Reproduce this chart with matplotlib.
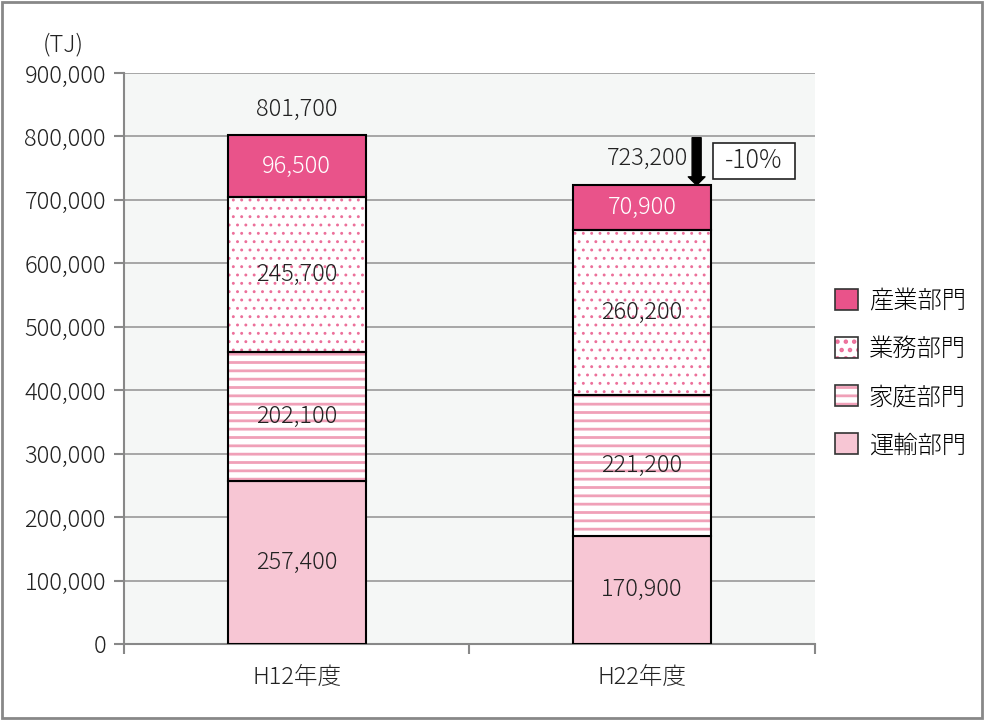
import matplotlib
matplotlib.use('Agg')
import matplotlib.pyplot as plt
from matplotlib.patches import Rectangle
from matplotlib.legend_handler import HandlerTuple

plt.rcParams['font.family'] = ['Noto Sans CJK JP', 'DejaVu Sans']
plt.rcParams['font.weight'] = 'light'

# データ
years = ['H12年度', 'H22年度']
sectors = ['運輸部門', '家庭部門', '業務部門', '産業部門']
transport = [257400, 170900]
household = [202100, 221200]
business = [245700, 260200]
industry = [96500, 70900]
totals = [801700, 723200]
yticks = [0, 100000, 200000, 300000, 400000, 500000, 600000, 700000, 800000, 900000]

series = [transport, household, business, industry]
faces = ['#f7c6d4', 'white', 'white', '#e9538a']
hatches = [None, '--', '..', None]
hatch_lw = [None, 2.0, 0.9, None]
hatch_cols = [None, '#f0a0b8', '#ec6f9a', None]
txt_cols = ['#222222', '#222222', '#222222', 'white']
FS = 17

fig = plt.figure(figsize=(9.84, 7.2), dpi=100)
ax = fig.add_axes([0.126, 0.1056, 0.702, 0.793])
ax.set_facecolor('#f5f7f6')

x = [0, 1]
w = 0.4
bottom = [0, 0]
for vals, fc, ht, hl, hc, tc in zip(series, faces, hatches, hatch_lw, hatch_cols, txt_cols):
    if ht:
        plt.rcParams['hatch.linewidth'] = hl
        ax.bar(x, vals, w, bottom=bottom, color='white', edgecolor=hc, hatch=ht, lw=0, zorder=3)
        ax.bar(x, vals, w, bottom=bottom, fill=False, edgecolor='black', lw=1.5, zorder=4)
    else:
        ax.bar(x, vals, w, bottom=bottom, color=fc, edgecolor='black', lw=1.5, zorder=3)
    for i in x:
        ax.text(i, bottom[i] + vals[i] / 2, f'{vals[i]:,}', ha='center', va='center',
                fontsize=FS, color=tc, zorder=5)
    bottom = [b + v for b, v in zip(bottom, vals)]

# 合計
ax.annotate(f'{totals[0]:,}', (0, totals[0]), xytext=(0, 10), textcoords='offset points',
            ha='center', va='bottom', fontsize=FS, color='#222222')
ax.text(1.132, 766000, f'{totals[1]:,}', ha='right', va='center', fontsize=FS, color='#222222')
ax.annotate('', xy=(1.158, totals[1]), xytext=(1.158, 798000),
            arrowprops=dict(arrowstyle='simple,head_width=1.2,head_length=0.6,tail_width=0.65',
                            color='black', shrinkA=0, shrinkB=0), zorder=6)
ax.add_patch(Rectangle((1.205, 733000), 0.237, 56700, fc='white', ec='#222222', lw=1.2, zorder=6))
ax.text(1.323, 761000, '-10%', ha='center', va='center', fontsize=18, color='#222222', zorder=7)

ax.set_xlim(-0.5, 1.5)
ax.set_ylim(0, 900000)
ax.set_yticks(yticks)
ax.set_yticklabels([f'{v:,}' for v in yticks], fontsize=FS, color='#222222')
ax.set_xticks([-0.5, 0.5, 1.5])
ax.set_xticklabels([])
ax.set_xticks(x, minor=True)
ax.set_xticklabels(years, minor=True, fontsize=FS, color='#222222')
ax.tick_params(axis='x', which='minor', length=0, pad=15)
ax.tick_params(axis='x', which='major', length=7, color='#888888', width=1.5)
ax.tick_params(axis='y', length=7, color='#888888', width=1.5, pad=6)
ax.grid(axis='y', color='#999999', lw=1.2, zorder=1)
ax.set_axisbelow(True)
for s in ['top', 'right']:
    ax.spines[s].set_visible(False)
for s in ['left', 'bottom']:
    ax.spines[s].set_color('#888888')
    ax.spines[s].set_linewidth(1.5)

fig.text(0.064, 0.937, '(TJ)', ha='center', va='center', fontsize=FS, color='#222222')

# 凡例
handles = []
for fc, ht, hl, hc in zip(faces[::-1], hatches[::-1], hatch_lw[::-1], hatch_cols[::-1]):
    if ht:
        plt.rcParams['hatch.linewidth'] = hl
        hp = Rectangle((0, 0), 1, 1, facecolor='white', edgecolor=hc, hatch=ht, lw=0)
        eb = Rectangle((0, 0), 1, 1, fill=False, edgecolor='#333333', lw=1.2)
        handles.append((hp, eb))
    else:
        handles.append(Rectangle((0, 0), 1, 1, facecolor=fc, edgecolor='#333333', lw=1.2))
leg = fig.legend(handles, sectors[::-1], loc='center left', bbox_to_anchor=(0.826, 0.481),
                 frameon=False, fontsize=17.5, handlelength=0.95, handleheight=0.95,
                 labelspacing=0.95, handletextpad=0.45,
                 handler_map={tuple: HandlerTuple(ndivide=1, pad=0)})

fig.add_artist(Rectangle((0.002, 0.003), 0.996, 0.994, transform=fig.transFigure,
                         fill=False, edgecolor='#888888', lw=2))

fig.savefig('out.png', dpi=100)
